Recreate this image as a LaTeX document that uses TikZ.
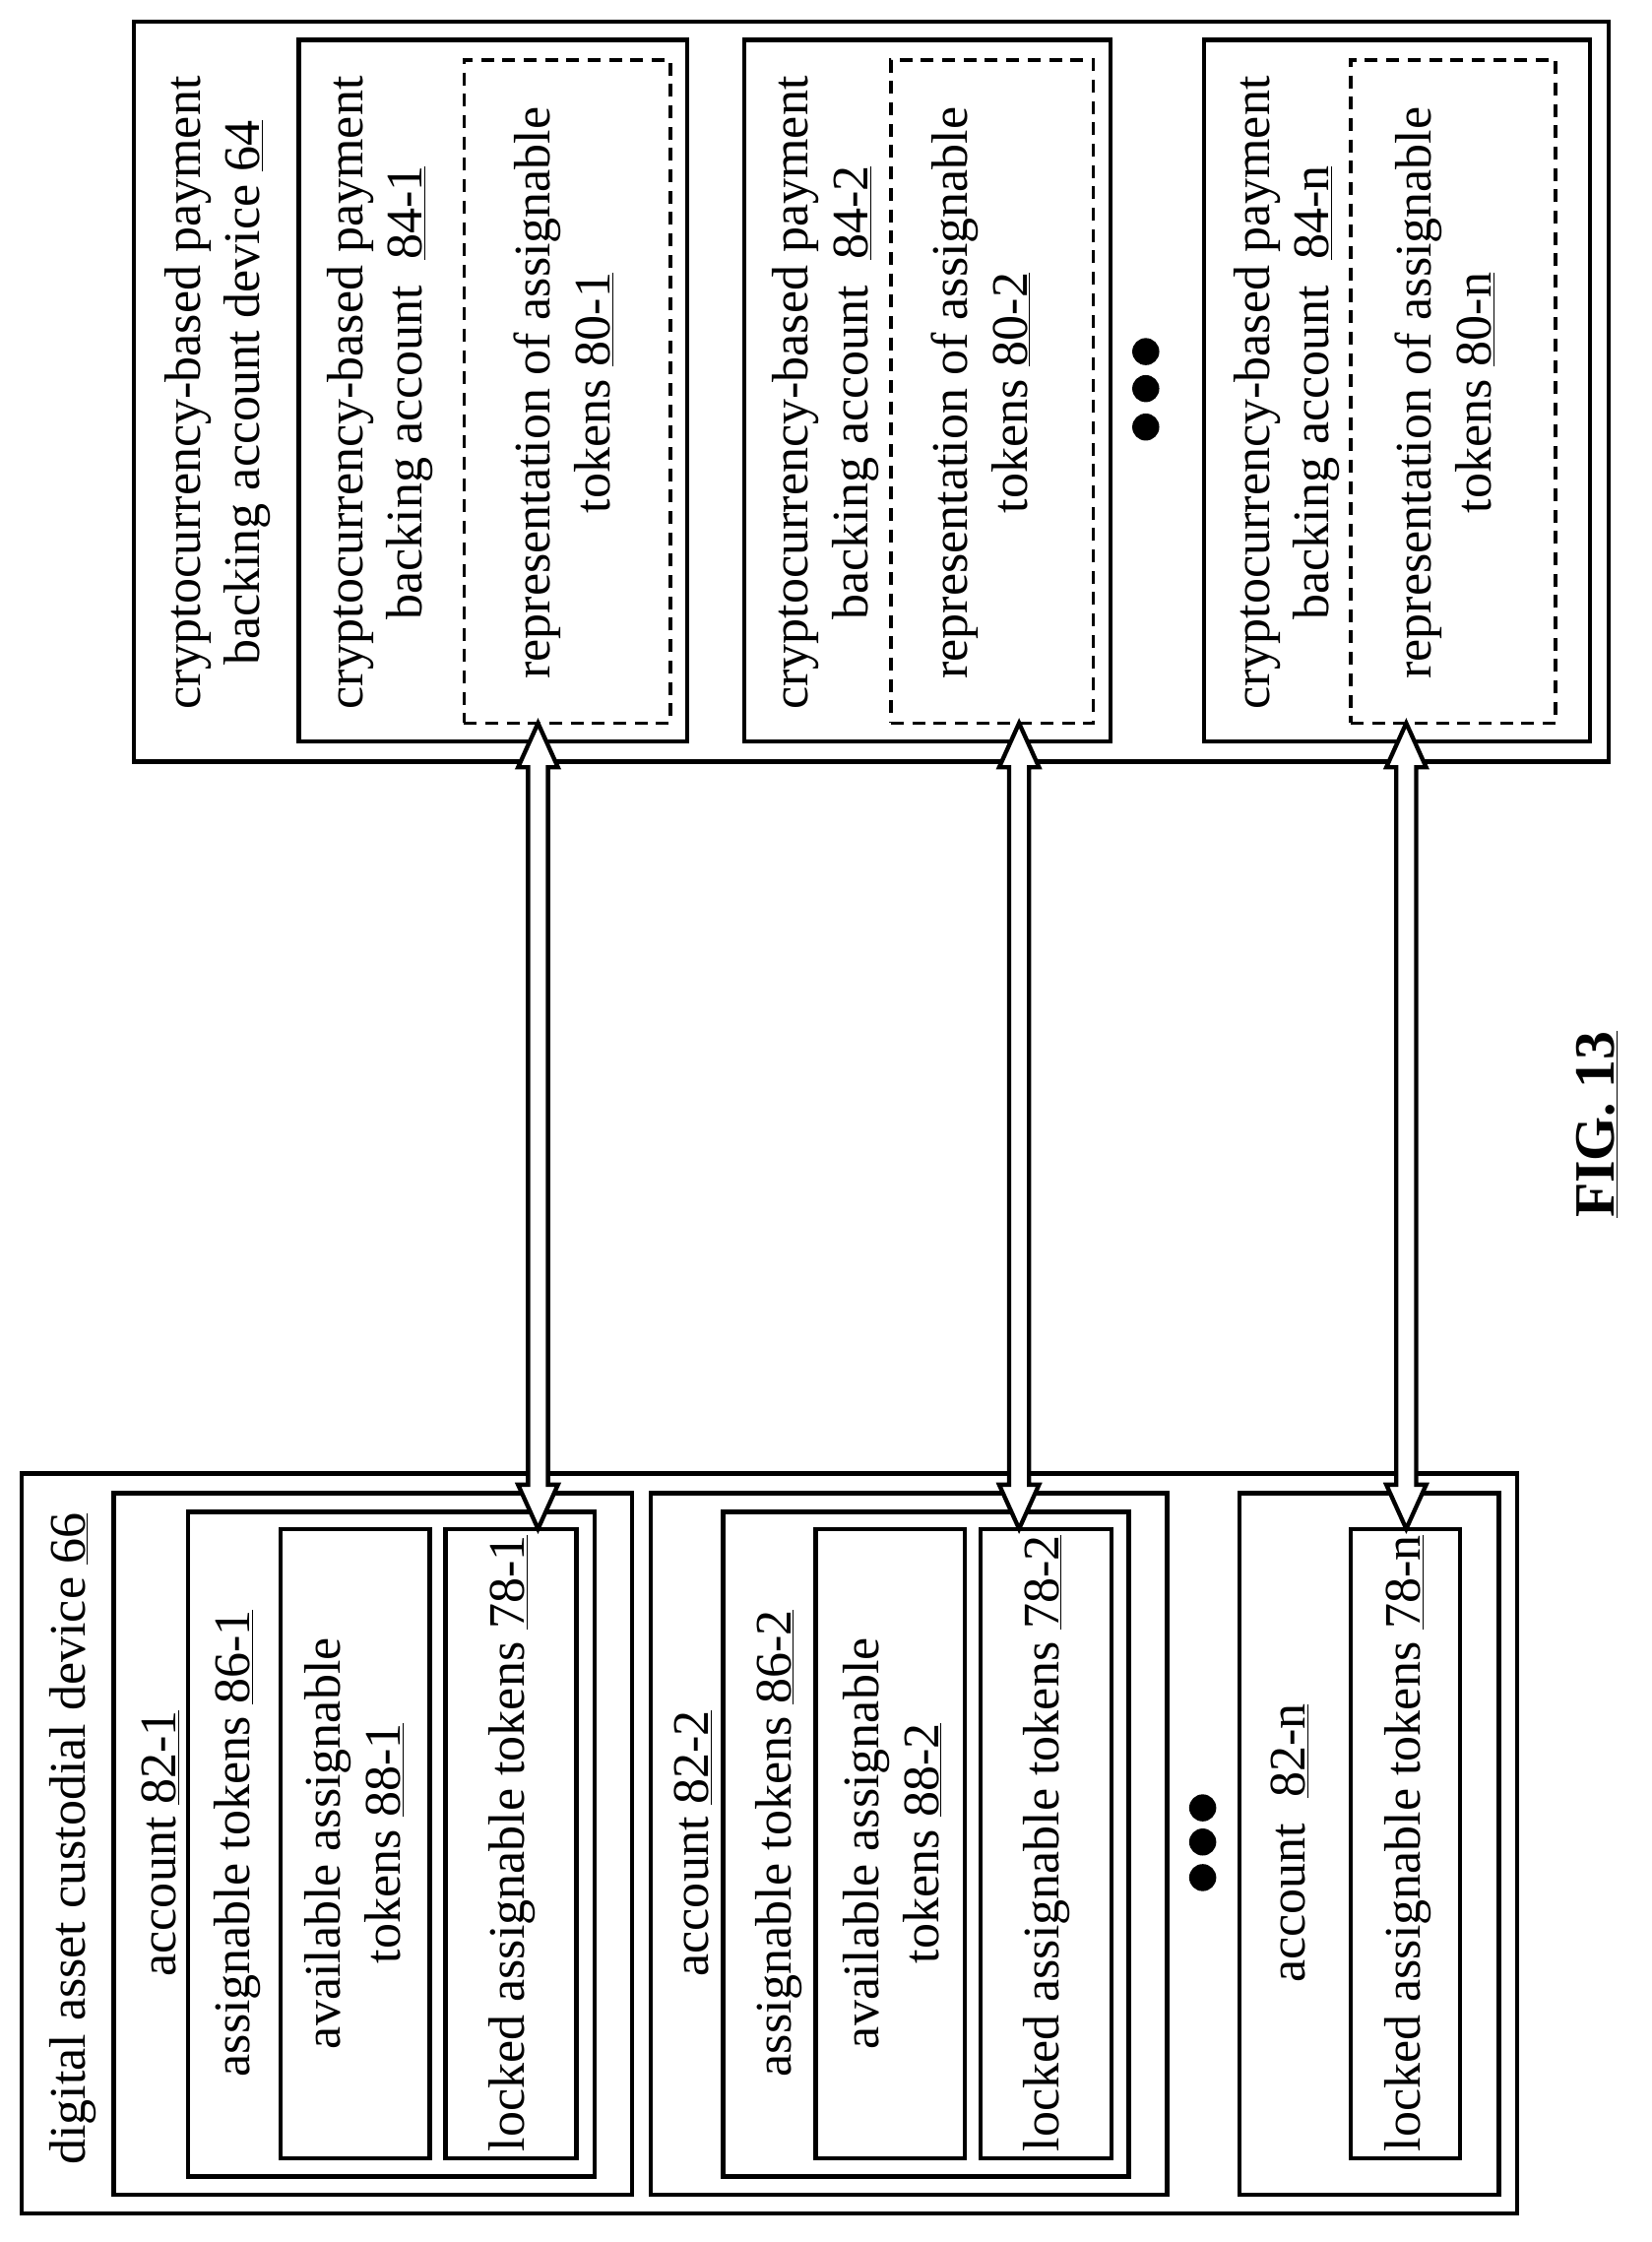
\documentclass[tikz,border=0pt]{standalone}
\usepackage{fontspec}
\setmainfont{Liberation Serif}
\usetikzlibrary{calc}
\tikzset{
  bx/.style={draw, line width=3pt, inner sep=0pt},
  dbx/.style={bx, line width=2.5pt, dash pattern=on 9pt off 6pt},
  lbl/.style={rotate=90, align=center, inner sep=0pt, font=\fontsize{36}{42}\selectfont},
  dot/.style={circle, fill=black, inner sep=0pt, minimum size=19pt}
}
\newcommand\bx[6]{\node[#6, minimum width={(#4-#2)*1pt}, minimum height={(#5-#3)*1pt}] (#1) at ({(#2+#4)/2},{(#3+#5)/2}) {};}
\newcommand\dbarrow[2]{%
  \draw[line width=3pt, fill=white] let \p1=(#1), \p2=(#2) in
   (\x2,\y2) -- (\x2+14pt,\y2-31pt) -- (\x2+7pt,\y2-31pt) -- (\x1+7pt,\y1+31pt) -- (\x1+14pt,\y1+31pt)
   -- (\x1,\y1) -- (\x1-14pt,\y1+31pt) -- (\x1-7pt,\y1+31pt) -- (\x2-7pt,\y2-31pt) -- (\x2-14pt,\y2-31pt) -- cycle;}
\begin{document}
\begin{tikzpicture}[x=1pt,y=-1pt]
\useasboundingbox (0,0) rectangle (1160,1575);
% left
\bx{cust}{15}{1035}{1066}{1555}{bx}
\bx{acc1}{80}{1049}{444}{1542}{bx}
\bx{asg1}{132}{1062}{418}{1529}{bx}
\bx{av1}{197}{1074}{302}{1516}{bx}
\bx{lk1}{313}{1074}{405}{1516}{bx}
\bx{acc2}{457}{1049}{820}{1542}{bx}
\bx{asg2}{508}{1062}{793}{1529}{bx}
\bx{av2}{573}{1074}{678}{1516}{bx}
\bx{lk2}{689}{1074}{781}{1516}{bx}
\bx{accn}{871}{1049}{1053}{1542}{bx}
\bx{lkn}{949}{1074}{1026}{1516}{bx}
\node[lbl] (tcust) at (51,1292) {digital asset custodial device \underline{66}};
\node[lbl] (tacc1) at (113,1295) {account \underline{82-1}};
\node[lbl] (tasg1) at (167,1295) {assignable tokens \underline{86-1}};
\node[lbl] (tav1) at (249,1295) {available assignable\\tokens \underline{88-1}};
\node[lbl] (tlk1) at (360,1295) {locked assignable tokens \underline{78-1}};
\node[lbl] (tacc2) at (487,1295) {account \underline{82-2}};
\node[lbl] (tasg2) at (547,1295) {assignable tokens \underline{86-2}};
\node[lbl] (tav2) at (627,1295) {available assignable\\tokens \underline{88-2}};
\node[lbl] (tlk2) at (735,1295) {locked assignable tokens \underline{78-2}};
\node[lbl] (taccn) at (906,1295) {account\ \ \underline{82-n}};
\node[lbl] (tlkn) at (989,1295) {locked assignable tokens \underline{78-n}};
\node[dot] (ld1) at (845,1270) {};
\node[dot] (ld2) at (845,1294) {};
\node[dot] (ld3) at (845,1319) {};
% right
\bx{dev}{94}{15}{1130}{535}{bx}
\bx{p1}{210}{28}{483}{521}{bx}
\bx{r1}{326}{42}{471}{508}{dbx}
\bx{p2}{523}{28}{780}{521}{bx}
\bx{r2}{626}{42}{768}{508}{dbx}
\bx{pn}{846}{28}{1117}{521}{bx}
\bx{rn}{949}{42}{1093}{508}{dbx}
\node[lbl] (tdev) at (153,276) {cryptocurrency-based payment\\backing account device \underline{64}};
\node[lbl] (tp1) at (267,276) {cryptocurrency-based payment\\backing account\ \ \underline{84-1}};
\node[lbl] (tr1) at (396,276) {representation of assignable\\tokens \underline{80-1}};
\node[lbl] (tp2) at (580,276) {cryptocurrency-based payment\\backing account\ \ \underline{84-2}};
\node[lbl] (tr2) at (689,276) {representation of assignable\\tokens \underline{80-2}};
\node[lbl] (tpn) at (904,276) {cryptocurrency-based payment\\backing account\ \ \underline{84-n}};
\node[lbl] (trn) at (1015,276) {representation of assignable\\tokens \underline{80-n}};
\node[dot] (rd1) at (805,247) {};
\node[dot] (rd2) at (805,273) {};
\node[dot] (rd3) at (805,300) {};
% arrows
\coordinate (a1b) at (378,1074); \coordinate (a1t) at (378,508);
\coordinate (a2b) at (716,1074); \coordinate (a2t) at (716,508);
\coordinate (anb) at (988,1074); \coordinate (ant) at (988,508);
\dbarrow{a1b}{a1t}
\dbarrow{a2b}{a2t}
\dbarrow{anb}{ant}
\node[rotate=90, inner sep=0pt, font=\fontsize{40}{44}\selectfont\bfseries] (fig) at (1122,790) {\underline{FIG. 13}};
\end{tikzpicture}
\end{document}
